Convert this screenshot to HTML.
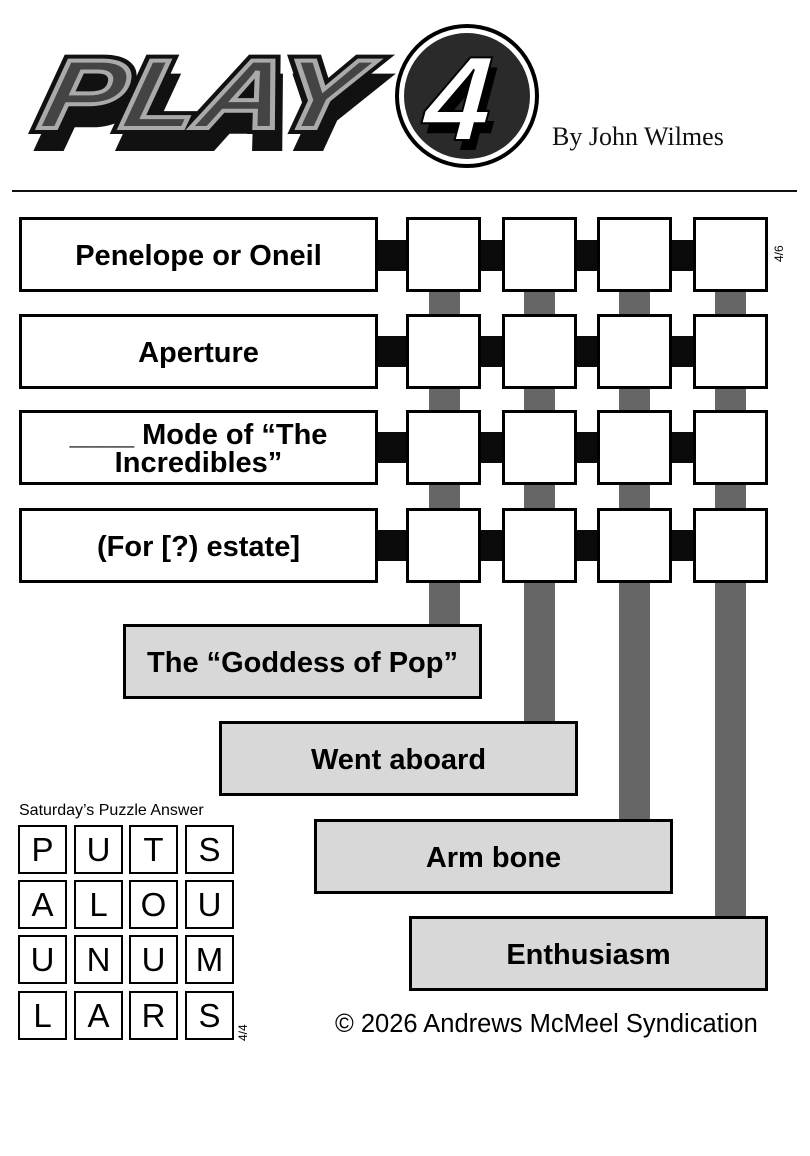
<!DOCTYPE html>
<html><head><style>
body{margin:0;width:810px;height:1156px;background:#fff;position:relative;overflow:hidden;font-family:"Liberation Sans",sans-serif}
div{position:absolute;box-sizing:border-box}
.clue{border:3px solid #000;background:#fff;left:19px;width:359px;height:75px;display:flex;align-items:center;justify-content:center;text-align:center;font-weight:bold;font-size:29px;line-height:28px;padding-top:3px}
.cell{border:3px solid #000;background:#fff;width:75px;height:75px}
.blk{background:#0a0a0a;height:31px}
.gr{background:#666;width:31px}
.ans{border:3px solid #000;background:#d8d8d8;width:359px;height:75px;display:flex;align-items:center;justify-content:center;font-weight:bold;font-size:29px;padding-top:3px}
.sc{border:2.5px solid #000;width:49px;height:49px;font-size:33px;display:flex;align-items:center;justify-content:center}
</style></head><body>
<svg style="position:absolute;left:0;top:0" width="810" height="190">
<g font-family="Liberation Sans" font-weight="bold" font-style="italic" font-size="98">
<g transform="translate(52,0) scale(1.25,1) skewX(-10)">
<text x="16" y="146" fill="#111" stroke="#111" stroke-width="10">PLAY</text>
<text x="10" y="128" fill="#444" stroke="#111" stroke-width="12">PLAY</text>
<text x="10" y="128" fill="#444" stroke="#aaa" stroke-width="4">PLAY</text>
</g></g>
<circle cx="467" cy="96" r="70" fill="#fff" stroke="#000" stroke-width="4"/>
<circle cx="467" cy="96" r="63" fill="#2a2a2a"/>
<text x="438" y="150" font-family="Liberation Sans" font-weight="bold" font-style="italic" font-size="120" fill="#000" transform="skewX(-4)">4</text>
<text x="432" y="140" font-family="Liberation Sans" font-weight="bold" font-style="italic" font-size="120" fill="#fff" stroke="#000" stroke-width="2" transform="skewX(-4)">4</text>
<text x="552" y="145" font-family="Liberation Serif" font-size="26" fill="#111">By John Wilmes</text>
</svg>
<div style="left:12px;top:190px;width:785px;height:2px;background:#111"></div>

<div class="gr" style="left:429px;top:280px;height:350px"></div>
<div class="gr" style="left:524px;top:280px;height:445px"></div>
<div class="gr" style="left:619px;top:280px;height:543px"></div>
<div class="gr" style="left:715px;top:280px;height:640px"></div>

<div class="blk" style="left:376px;top:240px;width:420px;"></div>
<div class="blk" style="left:376px;top:336px;width:420px;"></div>
<div class="blk" style="left:376px;top:432px;width:420px;"></div>
<div class="blk" style="left:376px;top:530px;width:420px;"></div>
<div style="left:767px;top:200px;width:43px;height:400px;background:#fff"></div>

<div class="clue" style="top:217px">Penelope or Oneil</div>
<div class="clue" style="top:314px">Aperture</div>
<div class="clue" style="top:410px">____ Mode of “The<br>Incredibles”</div>
<div class="clue" style="top:508px">(For [?) estate]</div>

<div class="cell" style="left:406px;top:217px"></div><div class="cell" style="left:502px;top:217px"></div><div class="cell" style="left:597px;top:217px"></div><div class="cell" style="left:693px;top:217px"></div>
<div class="cell" style="left:406px;top:314px"></div><div class="cell" style="left:502px;top:314px"></div><div class="cell" style="left:597px;top:314px"></div><div class="cell" style="left:693px;top:314px"></div>
<div class="cell" style="left:406px;top:410px"></div><div class="cell" style="left:502px;top:410px"></div><div class="cell" style="left:597px;top:410px"></div><div class="cell" style="left:693px;top:410px"></div>
<div class="cell" style="left:406px;top:508px"></div><div class="cell" style="left:502px;top:508px"></div><div class="cell" style="left:597px;top:508px"></div><div class="cell" style="left:693px;top:508px"></div>
<div style="left:772px;font-size:12px;transform:rotate(-90deg);transform-origin:left top;top:262px">4/6</div>

<div class="ans" style="left:123px;top:624px">The “Goddess of Pop”</div>
<div class="ans" style="left:219px;top:721px">Went aboard</div>
<div class="ans" style="left:314px;top:819px">Arm bone</div>
<div class="ans" style="left:409px;top:916px">Enthusiasm</div>

<div style="left:19px;top:802px;font-size:16px">Saturday’s Puzzle Answer</div>
<div class="sc" style="left:18px;top:825px">P</div><div class="sc" style="left:74px;top:825px">U</div><div class="sc" style="left:129px;top:825px">T</div><div class="sc" style="left:185px;top:825px">S</div>
<div class="sc" style="left:18px;top:880px">A</div><div class="sc" style="left:74px;top:880px">L</div><div class="sc" style="left:129px;top:880px">O</div><div class="sc" style="left:185px;top:880px">U</div>
<div class="sc" style="left:18px;top:935px">U</div><div class="sc" style="left:74px;top:935px">N</div><div class="sc" style="left:129px;top:935px">U</div><div class="sc" style="left:185px;top:935px">M</div>
<div class="sc" style="left:18px;top:991px">L</div><div class="sc" style="left:74px;top:991px">A</div><div class="sc" style="left:129px;top:991px">R</div><div class="sc" style="left:185px;top:991px">S</div>
<div style="left:236px;top:1041px;font-size:12px;transform:rotate(-90deg);transform-origin:left top">4/4</div>

<div style="left:335px;top:1010px;font-size:25.5px">© 2026 Andrews McMeel Syndication</div>
</body></html>
